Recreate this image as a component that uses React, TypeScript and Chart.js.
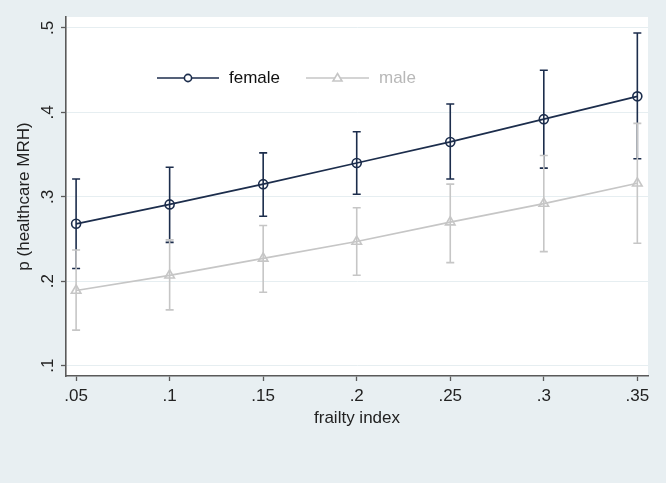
import React, { useEffect, useRef } from "react";
import { Chart, registerables } from "chart.js";

Chart.register(...registerables);

const xValues = [0.05, 0.1, 0.15, 0.2, 0.25, 0.3, 0.35];
const xTickLabels = [".05", ".1", ".15", ".2", ".25", ".3", ".35"];
const yTicks = [0.1, 0.2, 0.3, 0.4, 0.5];
const yTickLabels = [".1", ".2", ".3", ".4", ".5"];

const femaleP = [0.268, 0.291, 0.315, 0.34, 0.365, 0.392, 0.419];
const femaleLo = [0.215, 0.246, 0.277, 0.303, 0.321, 0.334, 0.345];
const femaleHi = [0.321, 0.335, 0.352, 0.377, 0.41, 0.45, 0.494];
const maleP = [0.189, 0.207, 0.227, 0.247, 0.27, 0.292, 0.316];
const maleLo = [0.142, 0.166, 0.187, 0.207, 0.222, 0.235, 0.245];
const maleHi = [0.237, 0.249, 0.266, 0.287, 0.315, 0.349, 0.387];

const FEMALE = "#1c2d4c";
const MALE = "#c6c6c6";
const BG = "#e8eff2";
const FONT = '"Liberation Sans", Arial, sans-serif';

export default function App() {
  const ref = useRef<HTMLCanvasElement | null>(null);

  useEffect(() => {
    document.body.style.margin = "0";
    const canvas = ref.current;
    if (!canvas) return;

    const errorBars = {
      id: "errorBars",
      beforeDraw(chart: any) {
        const { ctx, chartArea } = chart;
        ctx.save();
        ctx.fillStyle = "#ffffff";
        ctx.fillRect(chartArea.left, chartArea.top, chartArea.right - chartArea.left, chartArea.bottom - chartArea.top);
        ctx.restore();
      },
      beforeDatasetsDraw(chart: any) {
        const { ctx } = chart;
        const xs = chart.scales.x;
        const ys = chart.scales.y;
        const sets = [
          { lo: femaleLo, hi: femaleHi, color: FEMALE },
          { lo: maleLo, hi: maleHi, color: MALE },
        ];
        ctx.save();
        for (const s of sets) {
          ctx.strokeStyle = s.color;
          ctx.lineWidth = 1.6;
          for (let i = 0; i < xValues.length; i++) {
            const px = xs.getPixelForValue(xValues[i]);
            const p1 = ys.getPixelForValue(s.lo[i]);
            const p2 = ys.getPixelForValue(s.hi[i]);
            ctx.beginPath();
            ctx.moveTo(px, p1);
            ctx.lineTo(px, p2);
            ctx.moveTo(px - 4, p1);
            ctx.lineTo(px + 4, p1);
            ctx.moveTo(px - 4, p2);
            ctx.lineTo(px + 4, p2);
            ctx.stroke();
          }
        }
        ctx.restore();
      },
      afterDraw(chart: any) {
        const { ctx, chartArea } = chart;
        const ys = chart.scales.y;
        ctx.save();
        ctx.fillStyle = "#222222";
        ctx.font = `17px ${FONT}`;
        ctx.textAlign = "center";
        ctx.textBaseline = "middle";
        // y tick labels (rotated)
        yTicks.forEach((v, i) => {
          const py = ys.getPixelForValue(v);
          ctx.save();
          ctx.translate(chartArea.left - 18, py);
          ctx.rotate(-Math.PI / 2);
          ctx.fillText(yTickLabels[i], 0, 0);
          ctx.restore();
        });
        // y title
        ctx.save();
        ctx.translate(24, (chartArea.top + chartArea.bottom) / 2);
        ctx.rotate(-Math.PI / 2);
        ctx.fillText("p (healthcare MRH)", 0, 0);
        ctx.restore();
        // x title
        ctx.fillText("frailty index", (chartArea.left + chartArea.right) / 2, 418);

        // legend
        const ly = 78;
        const items = [
          { x0: 157, x1: 219, tx: 229, color: FEMALE, text: chart.data.datasets[0].label, style: "circle" },
          { x0: 306, x1: 369, tx: 379, color: MALE, text: chart.data.datasets[1].label, style: "triangle" },
        ];
        for (const it of items) {
          ctx.strokeStyle = it.color;
          ctx.lineWidth = 1.6;
          ctx.beginPath();
          ctx.moveTo(it.x0, ly);
          ctx.lineTo(it.x1, ly);
          ctx.stroke();
          const cx = (it.x0 + it.x1) / 2;
          ctx.fillStyle = "#ffffff";
          ctx.beginPath();
          if (it.style === "circle") {
            ctx.arc(cx, ly, 3.6, 0, Math.PI * 2);
          } else {
            ctx.moveTo(cx, ly - 4.5);
            ctx.lineTo(cx + 4.5, ly + 3);
            ctx.lineTo(cx - 4.5, ly + 3);
            ctx.closePath();
          }
          ctx.fill();
          ctx.stroke();
          ctx.fillStyle = it.style === "circle" ? "#111111" : "#b8b8b8";
          ctx.textAlign = "left";
          ctx.fillText(it.text, it.tx, ly);
        }
        ctx.restore();
      },
    };

    const chart = new Chart(canvas, {
      type: "line",
      data: {
        datasets: [
          {
            label: "female",
            data: xValues.map((x, i) => ({ x, y: femaleP[i] })),
            borderColor: FEMALE,
            backgroundColor: "rgba(0,0,0,0)",
            borderWidth: 1.7,
            pointStyle: "circle",
            pointRadius: 4.5,
            pointBorderWidth: 1.6,
            pointBorderColor: FEMALE,
            pointBackgroundColor: "rgba(0,0,0,0)",
            tension: 0,
          },
          {
            label: "male",
            data: xValues.map((x, i) => ({ x, y: maleP[i] })),
            borderColor: MALE,
            backgroundColor: "rgba(0,0,0,0)",
            borderWidth: 1.7,
            pointStyle: "triangle",
            pointRadius: 5.5,
            pointBorderWidth: 1.6,
            pointBorderColor: MALE,
            pointBackgroundColor: "rgba(0,0,0,0)",
            tension: 0,
          },
        ],
      },
      options: {
        animation: false,
        responsive: false,
        maintainAspectRatio: false,
        layout: { padding: { top: 17, right: 18, left: 0, bottom: 0 } },
        plugins: {
          legend: { display: false },
          tooltip: { enabled: false },
          title: { display: false },
        },
        scales: {
          x: {
            type: "linear",
            min: 0.0446,
            max: 0.3557,
            afterBuildTicks(scale: any) {
              scale.ticks = xValues.map((v) => ({ value: v }));
            },
            afterFit(scale: any) {
              scale.height = 107;
            },
            ticks: {
              autoSkip: false,
              maxRotation: 0,
              minRotation: 0,
              padding: 5,
              color: "#222222",
              font: { size: 17, family: FONT },
              callback: (_v: any, i: number) => xTickLabels[i],
            },
            grid: {
              drawOnChartArea: false,
              drawTicks: true,
              tickLength: 5,
              tickColor: "#5a5a5a",
              tickWidth: 1.3,
            },
            border: { display: true, color: "#5a5a5a", width: 1.6 },
          },
          y: {
            type: "linear",
            min: 0.0877,
            max: 0.513,
            afterBuildTicks(scale: any) {
              scale.ticks = yTicks.map((v) => ({ value: v }));
            },
            afterFit(scale: any) {
              scale.width = 66;
            },
            ticks: { display: false },
            grid: {
              color: "#e6eef1",
              lineWidth: 1,
              drawTicks: true,
              tickLength: 5,
              tickColor: "#5a5a5a",
              tickWidth: 1.3,
            },
            border: { display: true, color: "#5a5a5a", width: 1.6 },
          },
        },
      },
      plugins: [errorBars],
    } as any);

    return () => chart.destroy();
  }, []);

  return (
    <div style={{ width: 666, height: 483, background: BG, position: "relative" }}>
      <canvas ref={ref} width={666} height={483} style={{ display: "block" }} />
    </div>
  );
}
